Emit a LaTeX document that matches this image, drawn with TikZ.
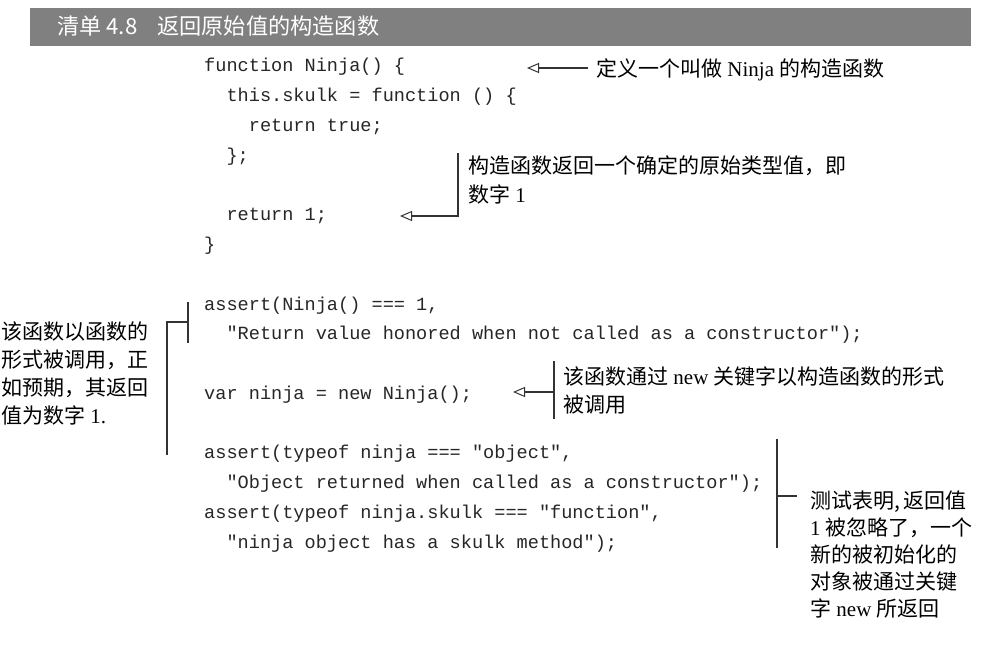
\documentclass[tikz,border=0pt]{standalone}
\usepackage{fontspec}
\setmainfont{Liberation Serif}
\setmonofont{Liberation Mono}
\newfontfamily\cjk{Noto Sans CJK SC}
\usetikzlibrary{arrows.meta}
\definecolor{barcol}{HTML}{808080}
\definecolor{linecol}{HTML}{333333}
\begin{document}
\begin{tikzpicture}[x=1pt,y=-1pt,
  codeline/.style={anchor=base west,inner sep=0pt,font=\ttfamily\fontsize{18.6}{29.75}\selectfont,text=black!85},
  note/.style={anchor=base west,inner sep=0pt,align=left,font=\fontsize{21}{28}\selectfont,text=black},
  conn/.style={draw=linecol,line width=1.1pt},
  tip/.style={-{Triangle[open,length=12pt,width=10pt,line width=1pt]}}]
\useasboundingbox (0,0) rectangle (1004,652);
\fill[barcol] (30,8) rectangle (970.5,46);
\node[anchor=base west,inner sep=0pt,text=white,font=\cjk\fontsize{22.2}{22}\selectfont] (title) at (57,35) {清单 4.8\hspace{20pt}返回原始值的构造函数};
% code (anchored at the baseline of the last line)
\node[codeline,align=left] (code1) at (204,250.5) {function Ninja() \{\\
\ \ this.skulk = function () \{\\
\ \ \ \ return true;\\
\ \ \};\\
\strut\\
\ \ return 1;\\
\}};
\node[codeline,align=left] (code2) at (204,548) {assert(Ninja() === 1,\\
\ \ "Return value honored when not called as a constructor");\\
\strut\\
var ninja = new Ninja();\\
\strut\\
assert(typeof ninja === "object",\\
\ \ "Object returned when called as a constructor");\\
assert(typeof ninja.skulk === "function",\\
\ \ "ninja object has a skulk method");};
% notes (anchored at the baseline of the last line)
\node[note] (n1) at (596,77) {{\cjk 定义一个叫做} Ninja {\cjk 的构造函数}};
\node[note,font=\fontsize{21}{29}\selectfont] (n2) at (468,203) {{\cjk 构造函数返回一个确定的原始类型值，即}\\{\cjk 数字} 1};
\node[note,font=\fontsize{21}{27.7}\selectfont] (n3) at (1,423) {{\cjk 该函数以函数的}\\{\cjk 形式被调用，正}\\{\cjk 如预期，其返回}\\{\cjk 值为数字} 1.};
\node[note] (n4) at (563,412) {{\cjk 该函数通过} new {\cjk 关键字以构造函数的形式}\\{\cjk 被调用}};
\node[note,font=\fontsize{21}{27}\selectfont] (n5) at (810,616) {{\cjk 测试表明,\,返回值}\\1 {\cjk 被忽略了，一个}\\{\cjk 新的被初始化的}\\{\cjk 对象被通过关键}\\{\cjk 字} new {\cjk 所返回}};
% connectors
\coordinate (a1s) at (588,68);
\coordinate (a1e) at (527,68);
\draw[conn,tip] (a1s) -- (a1e);
\coordinate (a2t) at (458,153);
\coordinate (a2e) at (400,216);
\draw[conn,tip] (a2t) |- (a2e);
\coordinate (b1b) at (167,455);
\coordinate (b1m) at (188,322);
\coordinate (b1t) at (188,302);
\coordinate (b1u) at (188,343);
\draw[conn] (b1b) |- (b1m);
\draw[conn] (b1t) -- (b1u);
\coordinate (a3t) at (554,361);
\coordinate (a3b) at (554,419);
\coordinate (a3s) at (554,392);
\coordinate (a3e) at (513,392);
\draw[conn] (a3t) -- (a3b);
\draw[conn,tip] (a3s) -- (a3e);
\coordinate (b2t) at (777,439);
\coordinate (b2b) at (777,548);
\coordinate (b2m) at (777,496);
\coordinate (b2e) at (797,496);
\draw[conn] (b2t) -- (b2b);
\draw[conn] (b2m) -- (b2e);
\end{tikzpicture}
\end{document}
